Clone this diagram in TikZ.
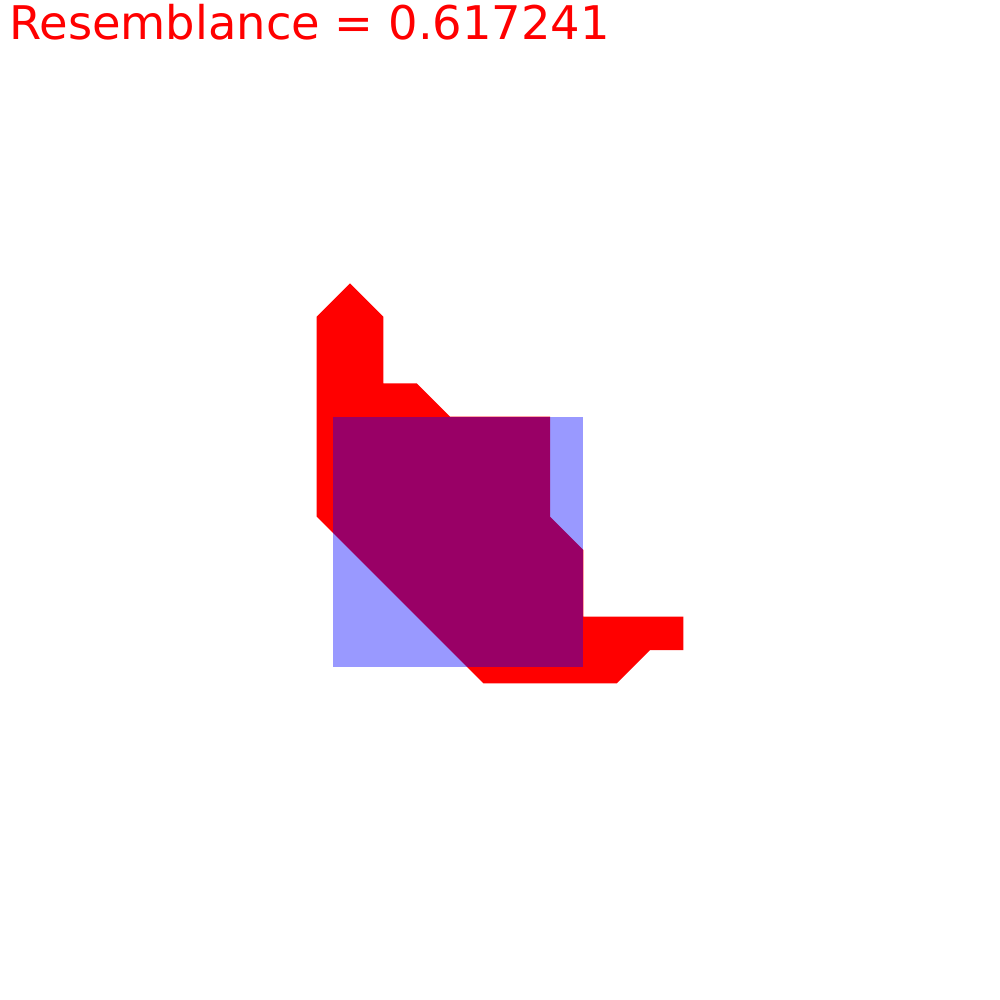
\documentclass[tikz,border=0pt]{standalone}
\usepackage{fontspec}
\setmainfont{DejaVu Sans}
\definecolor{shapered}{RGB}{255,0,0}
\definecolor{shapeblue}{RGB}{0,0,255}
\begin{document}
\begin{tikzpicture}[
  x=1cm/3, y=-1cm/3,
  redshape/.style={fill=shapered},
  blueshape/.style={fill=shapeblue, fill opacity=0.4},
  title/.style={anchor=base west, inner sep=0pt, text=shapered, font=\fontsize{13.2pt}{15pt}\selectfont}
]
\useasboundingbox (0,0) rectangle (30,30);

\node[title] (score) at (0.26,1.18) {Resemblance = 0.617241};

% red polygon
\fill[redshape] (10.5,8.5) -- (11.5,9.5) -- (11.5,11.5) -- (12.5,11.5) -- (13.5,12.5)
  -- (16.5,12.5) -- (16.5,15.5) -- (17.5,16.5) -- (17.5,18.5) -- (20.5,18.5)
  -- (20.5,19.5) -- (19.5,19.5) -- (18.5,20.5) -- (14.5,20.5) -- (9.5,15.5)
  -- (9.5,9.5) -- cycle;

% blue square on top
\fill[blueshape] (10,12.5) rectangle (17.5,20);
\end{tikzpicture}
\end{document}
